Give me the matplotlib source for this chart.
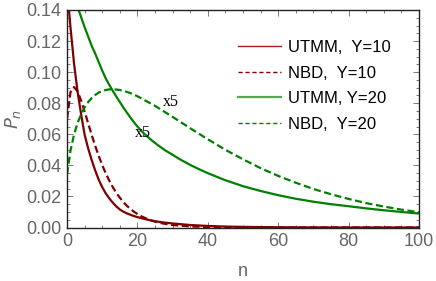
import matplotlib
matplotlib.use("Agg")
import matplotlib.pyplot as plt
from matplotlib.lines import Line2D
from matplotlib.ticker import MultipleLocator

# ---- data ----
n_utmm10 = [0, 1, 2, 3, 4, 5, 6, 7, 8, 9, 10, 11, 12, 13, 14, 15, 16, 17, 18, 19, 20,
            22, 24, 26, 28, 30, 35, 40, 45, 50, 60, 70, 80, 90, 100]
p_utmm10 = [0.155, 0.1286, 0.1056, 0.0874, 0.0730, 0.0598, 0.0510, 0.0435, 0.0368, 0.0308,
            0.0260, 0.0220, 0.0188, 0.0160, 0.0136, 0.0116, 0.0102, 0.0091, 0.0082, 0.0074,
            0.0067, 0.0055, 0.0045, 0.0037, 0.0031, 0.0026, 0.0016, 0.0010, 0.0006, 0.0004,
            0.00015, 0.00006, 0.00002, 0.00001, 0.0]

n_nbd10 = [0, 1, 2, 3, 4, 5, 6, 7, 8, 9, 10, 11, 12, 13, 14, 15, 16, 17, 18, 19, 20,
           21, 22, 23, 24, 25, 26, 27, 28, 29, 30, 35, 40, 50, 60, 100]
p_nbd10 = [0.0700, 0.0872, 0.0904, 0.0876, 0.0818, 0.0747, 0.0671, 0.0597, 0.0526, 0.0461,
           0.0402, 0.0349, 0.0302, 0.0260, 0.0223, 0.0192, 0.0164, 0.0140, 0.0120, 0.0102,
           0.0087, 0.0074, 0.0063, 0.0053, 0.0045, 0.0038, 0.0032, 0.0027, 0.0023, 0.0019,
           0.0016, 0.0007, 0.0003, 0.00005, 0.00001, 0.0]

n_utmm20 = [0, 1, 2, 3, 4, 5, 6, 7, 8, 9, 10, 11, 12, 13, 14, 15, 16, 17, 18, 19, 20,
            21, 22, 24, 26, 28, 30, 32, 35, 38, 40, 45, 50, 55, 60, 65, 70, 75, 80, 85, 90, 95, 100]
p_utmm20 = [0.165, 0.157, 0.149, 0.142, 0.1355, 0.129, 0.123, 0.117, 0.112, 0.1065,
            0.101, 0.0960, 0.0918, 0.0880, 0.0843, 0.0808, 0.0773, 0.0740, 0.0708, 0.0678,
            0.0650, 0.0625, 0.0602, 0.0562, 0.0527, 0.0495, 0.0468, 0.0440, 0.0403, 0.0370,
            0.0350, 0.0304, 0.0266, 0.0235, 0.0208, 0.0185, 0.0166, 0.0150, 0.0137, 0.0123,
            0.0111, 0.0100, 0.0090]

n_nbd20 = [0, 1, 2, 3, 4, 5, 6, 7, 8, 9, 10, 11, 12, 13, 14, 15, 16, 17, 18, 19, 20,
           25, 30, 35, 40, 45, 50, 55, 60, 65, 70, 75, 80, 85, 90, 95, 100]
p_nbd20 = [0.0343, 0.0496, 0.0598, 0.0672, 0.0729, 0.0773, 0.0807, 0.0833, 0.0853, 0.0868,
           0.0879, 0.0885, 0.0889, 0.0890, 0.0888, 0.0885, 0.0880, 0.0873, 0.0865, 0.0855,
           0.0845, 0.0783, 0.0712, 0.0639, 0.0568, 0.0500, 0.0439, 0.0382, 0.0332, 0.0288,
           0.0248, 0.0214, 0.0184, 0.0157, 0.0135, 0.0115, 0.0098]

labels = ["UTMM,  Y=10", "NBD,  Y=10", "UTMM, Y=20", "NBD,  Y=20"]
x_ticks = [0, 20, 40, 60, 80, 100]
y_ticks = [0.00, 0.02, 0.04, 0.06, 0.08, 0.10, 0.12, 0.14]

# ---- style ----
red = "#800000"
green = "#008000"
gray = "#666666"
plt.rcParams["font.family"] = ["Liberation Sans", "DejaVu Sans"]

fig = plt.figure(figsize=(4.36, 2.81), dpi=100)
ax = fig.add_axes([67 / 436, 1 - 227.5 / 281, (419 - 67) / 436, (227.5 - 10) / 281])

ax.plot(n_utmm10, p_utmm10, color=red, lw=1.6, solid_capstyle="butt")
ax.plot(n_nbd10, p_nbd10, color=red, lw=1.6, ls=(0, (3.2, 1.6)))
ax.plot(n_utmm20, p_utmm20, color=green, lw=1.6)
ax.plot(n_nbd20, p_nbd20, color=green, lw=1.6, ls=(0, (3.2, 1.6)))

ax.text(29.5, 0.0805, "x5", family=["Liberation Serif", "DejaVu Serif"], fontsize=11.5,
        ha="center", va="center", color="black")
ax.text(21.6, 0.0608, "x5", family=["Liberation Serif", "DejaVu Serif"], fontsize=11.5,
        ha="center", va="center", color="black")

ax.set_xlim(0, 100)
ax.set_ylim(0, 0.14)
ax.set_xticks(x_ticks)
ax.set_yticks(y_ticks)
ax.set_xticklabels([str(v) for v in x_ticks])
ax.set_yticklabels([f"{v:.2f}" for v in y_ticks])
ax.xaxis.set_minor_locator(MultipleLocator(5))
ax.yaxis.set_minor_locator(MultipleLocator(0.005))
ax.tick_params(which="both", direction="in", top=True, right=True, colors=gray,
               labelcolor=gray, labelsize=13, width=0.6)
ax.tick_params(which="major", length=4, pad=4)
ax.tick_params(which="minor", length=2)
for s in ax.spines.values():
    s.set_color("#222222")
    s.set_linewidth(1.0)

ax.set_xlabel("n", color=gray, fontsize=13, labelpad=9)
ax.set_ylabel("$P_n$", color=gray, fontsize=13)
ax.yaxis.set_label_coords(-0.125, 0.50)

handles = [
    Line2D([], [], color="#a02020", lw=1.0),
    Line2D([], [], color="#8b0000", lw=1.0, ls=(0, (3, 2))),
    Line2D([], [], color="#55aa55", lw=1.6),
    Line2D([], [], color=green, lw=1.0, ls=(0, (3, 2))),
]
leg = ax.legend(handles, labels, loc="upper left", bbox_to_anchor=(0.486, 0.862),
                frameon=False, fontsize=12, handlelength=2.6, handletextpad=0.42,
                labelspacing=0.63, borderaxespad=0.0, borderpad=0.0)

fig.savefig("out.png", dpi=100)
